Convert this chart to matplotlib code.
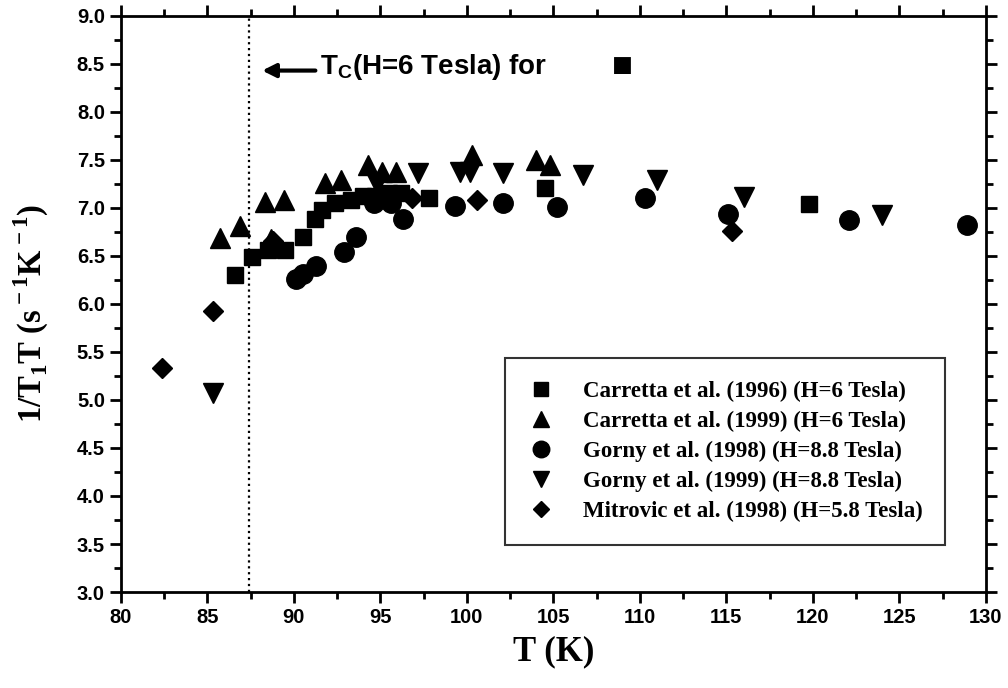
import matplotlib.pyplot as plt
from matplotlib.ticker import MultipleLocator

plt.rcParams['mathtext.fontset'] = 'custom'
plt.rcParams['mathtext.rm'] = 'Liberation Serif:bold'
plt.rcParams['mathtext.sf'] = 'Liberation Sans:bold'

# Carretta et al. (1996), H = 6 T
car96_T = [86.6, 87.6, 88.5, 89.5, 90.5, 91.2, 91.6, 92.4, 93.3, 94.0, 94.7, 95.5, 96.2, 97.8, 104.5, 119.8]
car96_y = [6.30, 6.49, 6.56, 6.56, 6.70, 6.88, 6.98, 7.05, 7.08, 7.12, 7.12, 7.15, 7.15, 7.10, 7.21, 7.04]

# Carretta et al. (1999), H = 6 T
car99_T = [85.7, 86.9, 88.3, 89.4, 88.7, 91.8, 92.7, 94.3, 95.1, 95.9, 100.3, 104.0, 104.8]
car99_y = [6.69, 6.81, 7.06, 7.08, 6.68, 7.26, 7.29, 7.45, 7.37, 7.37, 7.55, 7.50, 7.45]

# Gorny et al. (1998), H = 8.8 T
gor98_T = [90.1, 90.5, 91.3, 92.9, 93.6, 94.6, 95.6, 96.3, 99.3, 102.1, 105.2, 110.3, 115.1, 122.1, 128.9]
gor98_y = [6.26, 6.31, 6.40, 6.54, 6.70, 7.05, 7.05, 6.88, 7.02, 7.05, 7.01, 7.10, 6.94, 6.87, 6.82]

# Gorny et al. (1999), H = 8.8 T
gor99_T = [85.3, 94.8, 97.2, 99.6, 100.2, 102.1, 106.7, 111.0, 116.0, 124.0]
gor99_y = [5.07, 7.25, 7.36, 7.37, 7.37, 7.36, 7.34, 7.29, 7.11, 6.93]

# Mitrovic et al. (1998), H = 5.8 T
mit98_T = [82.4, 85.3, 88.8, 96.8, 100.6, 115.3]
mit98_y = [5.33, 5.93, 6.66, 7.10, 7.08, 6.76]

labels = ['Carretta et al. (1996) (H=6 Tesla)',
          'Carretta et al. (1999) (H=6 Tesla)',
          'Gorny et al. (1998) (H=8.8 Tesla)',
          'Gorny et al. (1999) (H=8.8 Tesla)',
          'Mitrovic et al. (1998) (H=5.8 Tesla)']

Tc_6T = 87.4

fig = plt.figure(figsize=(10.08, 6.88), dpi=100)
ax = fig.add_axes([0.12, 0.1395, 0.858, 0.8375])

ax.plot(car96_T, car96_y, 's', color='black', ms=12, label=labels[0])
ax.plot(car99_T, car99_y, '^', color='black', ms=14, label=labels[1])
ax.plot(gor98_T, gor98_y, 'o', color='black', ms=14, label=labels[2])
ax.plot(gor99_T, gor99_y, 'v', color='black', ms=14, label=labels[3])
ax.plot(mit98_T, mit98_y, 'D', color='black', ms=10, label=labels[4])

ax.axvline(Tc_6T, color='black', linestyle=':', linewidth=1.6)

# arrow and note marking Tc at 6 T
ax.annotate('', xy=(88.0, 8.43), xytext=(91.4, 8.43),
            arrowprops=dict(arrowstyle='-|>', color='black', lw=3,
                            mutation_scale=20))
ax.text(91.5, 8.47, r'T$_\mathsf{C}$(H=6 Tesla) for',
        fontsize=20, fontweight='bold', family=['Liberation Sans', 'DejaVu Sans'],
        va='center', ha='left')
ax.text(109.0, 8.47, '\u25a0', fontsize=25, family=['Liberation Sans', 'DejaVu Sans'],
        va='center', ha='center')

ax.set_xlim(80, 130)
ax.set_ylim(3.0, 9.0)
ax.xaxis.set_major_locator(MultipleLocator(5))
ax.xaxis.set_minor_locator(MultipleLocator(2.5))
ax.yaxis.set_major_locator(MultipleLocator(0.5))
ax.yaxis.set_minor_locator(MultipleLocator(0.25))
ax.yaxis.set_major_formatter(plt.FormatStrFormatter('%.1f'))

ax.tick_params(which='both', direction='out', top=True, right=True, width=2)
ax.tick_params(which='major', length=8, labelsize=14.5)
ax.tick_params(which='minor', length=5)
for lab in ax.get_xticklabels() + ax.get_yticklabels():
    lab.set_family('Liberation Sans')
    lab.set_fontweight('bold')
for sp in ax.spines.values():
    sp.set_linewidth(2)

ax.set_xlabel('T (K)', fontsize=25, family='Liberation Serif', fontweight='bold', labelpad=6)
ax.set_ylabel(r'1/T$_{\rm 1}$T (s$^{\rm -1}$K$^{\rm -1}$)', fontsize=23.5,
              family='Liberation Serif', fontweight='bold')
ax.yaxis.set_label_coords(-0.081, 0.483)

leg = ax.legend(loc='lower right', bbox_to_anchor=(0.953, 0.082), frameon=True,
                fancybox=False, edgecolor='black', borderpad=1.0, labelspacing=0.38,
                handlelength=1.2, handletextpad=1.2, borderaxespad=0, markerscale=0.85,
                prop={'family': 'Liberation Serif', 'weight': 'bold', 'size': 16.5})
leg.get_frame().set_linewidth(1.5)

fig.savefig('out.png', dpi=100)
